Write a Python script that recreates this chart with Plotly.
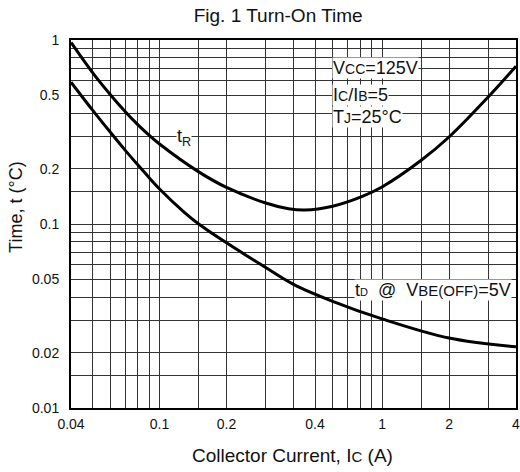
import plotly.graph_objects as go

# ---- data ----
ic_tr = [0.04, 0.05, 0.06, 0.07, 0.08, 0.09, 0.1, 0.15, 0.2, 0.3, 0.38, 0.45, 0.6, 0.8, 1.0, 1.5, 2.0, 3.0, 4.0]
t_r = [0.97, 0.665, 0.506, 0.409, 0.346, 0.303, 0.272, 0.192, 0.158, 0.130, 0.121, 0.119, 0.125, 0.140, 0.159, 0.222, 0.297, 0.49, 0.72]

ic_td = [0.04, 0.05, 0.06, 0.07, 0.08, 0.09, 0.1, 0.13, 0.15, 0.2, 0.3, 0.4, 0.6, 1.0, 2.0, 4.0]
t_d = [0.59, 0.416, 0.316, 0.252, 0.209, 0.178, 0.155, 0.115, 0.100, 0.079, 0.058, 0.047, 0.038, 0.0305, 0.024, 0.0215]

x_tickvals = [0.04, 0.1, 0.2, 0.5, 1, 2, 4]
x_ticktext = ["0.04", "0.1", "0.2", "0.4", "1", "2", "4"]
y_tickvals = [0.01, 0.02, 0.05, 0.1, 0.2, 0.5, 1]
y_ticktext = ["0.01", "0.02", "0.05", "0.1", "0.2", "0.5", "1"]

x_grid = [0.05, 0.06, 0.07, 0.08, 0.09, 0.1, 0.15, 0.2, 0.3, 0.4, 0.5, 0.6, 0.7, 0.8, 0.9, 1, 1.5, 2, 3]
y_grid = [0.015, 0.02, 0.03, 0.04, 0.05, 0.06, 0.07, 0.08, 0.09, 0.1, 0.15, 0.2, 0.3, 0.4, 0.5, 0.6, 0.7, 0.8, 0.9]

FONT = "Liberation Sans, Arial, Helvetica, sans-serif"

fig = go.Figure()
fig.add_trace(go.Scatter(x=ic_tr, y=t_r, mode="lines",
                         line=dict(color="black", width=3, shape="spline", smoothing=1.0), showlegend=False))
fig.add_trace(go.Scatter(x=ic_td, y=t_d, mode="lines",
                         line=dict(color="black", width=3, shape="spline", smoothing=1.0), showlegend=False))

axis_common = dict(
    showline=True, linecolor="black", linewidth=2, mirror=True,
    showgrid=False, zeroline=False, ticks="", automargin=False,
    ticklabeloverflow="allow",
    tickfont=dict(family=FONT, size=14, color="#111"),
)

fig.update_xaxes(
    type="log", range=[-1.39794, 0.60206],
    tickmode="array", tickvals=x_tickvals, ticktext=x_ticktext,
    ticklabelstandoff=2,
    minor=dict(tickvals=x_grid, showgrid=True, gridcolor="#333333", gridwidth=1, ticks=""),
    **axis_common,
)
fig.update_yaxes(
    type="log", range=[-2, 0],
    tickmode="array", tickvals=y_tickvals, ticktext=y_ticktext,
    ticklabelstandoff=7,
    minor=dict(tickvals=y_grid, showgrid=True, gridcolor="#333333", gridwidth=1, ticks=""),
    **axis_common,
)

ann_font = dict(family=FONT, size=18, color="#111")
sm = "<span style='font-size:14px'>"
sm15 = "<span style='font-size:15px'>"
notes = [
    ("V" + sm + "CC</span>=125V", 0.5865, 0.924),
    ("I" + sm + "C</span>/I" + sm + "B</span>=5", 0.5865, 0.851),
    ("T" + sm + "J</span>=25°C", 0.5865, 0.791),
    ("t<sub>R</sub>", 0.236, 0.736),
    ("t<span style='font-size:11px'>D</span>\u00a0 @\u00a0 V" + sm15 + "BE(OFF)</span>=5V", 0.636, 0.321),
]
for txt, px, py in notes:
    fig.add_annotation(text=txt, x=px, y=py, xref="paper", yref="paper",
                       xanchor="left", yanchor="middle", showarrow=False,
                       font=ann_font, bgcolor="white", borderpad=0)

# axis titles placed as annotations for exact placement
fig.add_annotation(text="Collector Current, I<span style='font-size:15px'>C</span> (A)",
                   x=0.497, y=-0.128, xref="paper", yref="paper", xanchor="center", yanchor="middle",
                   showarrow=False, font=dict(family=FONT, size=19, color="#111"))
fig.add_annotation(text="Time, t (°C)", textangle=-90,
                   x=-0.124, y=0.546, xref="paper", yref="paper", xanchor="center", yanchor="middle",
                   showarrow=False, font=dict(family=FONT, size=18, color="#111"))

fig.update_layout(
    width=520, height=472,
    margin=dict(l=71, r=4, t=40, b=64),
    paper_bgcolor="white", plot_bgcolor="white",
    title=dict(text="Fig. 1 Turn-On Time", x=0.535, xanchor="center", y=0.968, yanchor="middle",
               font=dict(family=FONT, size=19, color="#111")),
)

fig.write_html("out.html", config={"displayModeBar": False},
               post_script="document.body.style.margin='0';document.body.style.overflow='hidden';")
